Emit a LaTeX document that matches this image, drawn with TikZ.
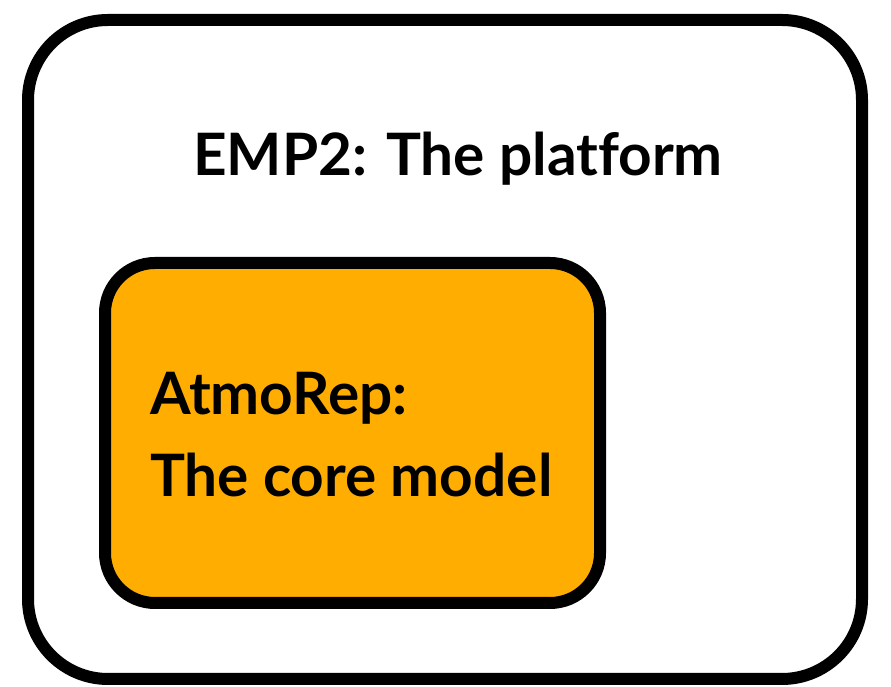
\documentclass[tikz,border=0pt]{standalone}
\usepackage{fontspec}
\setmainfont[Ligatures={NoCommon,NoContextual}]{Lato}
\definecolor{coreorange}{RGB}{255,173,0}

\begin{document}
\begin{tikzpicture}[x=1pt,y=1pt]
  \tikzset{box/.style={draw=black,line width=12pt},
           label/.style={font=\bfseries\fontsize{58.5}{82}\selectfont,inner sep=0pt}}
  \useasboundingbox (0,0) rectangle (891,687);
  \draw[box,rounded corners=80pt] (28,667) rectangle (862,8);
  \draw[box,fill=coreorange,rounded corners=50pt] (105,424) rectangle (600,84);
  \node[label,anchor=base] (platform) at (458,511) {EMP2: The platform};
  \node[label,anchor=base west,align=left] (coremodel) at (150,190) {AtmoRep:\\The core model};
\end{tikzpicture}
\end{document}
